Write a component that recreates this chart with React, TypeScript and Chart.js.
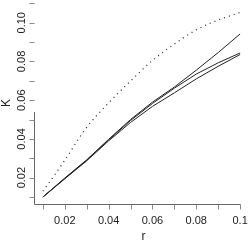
import React, { useEffect, useRef } from "react";
import { Chart, registerables } from "chart.js";

Chart.register(...registerables);

// Data
const rGrid = [0.01, 0.02, 0.03, 0.04, 0.05, 0.06, 0.07, 0.08, 0.09, 0.1];
const rDotted = [0.01, 0.015, 0.02, 0.03, 0.04, 0.05, 0.06, 0.07, 0.08, 0.09, 0.1];
const kDotted = [0.013, 0.0208, 0.029, 0.046, 0.0586, 0.0699, 0.0805, 0.089, 0.0963, 0.1014, 0.1053];
const kSolidA = [0.01, 0.0198, 0.0292, 0.0398, 0.05, 0.059, 0.0668, 0.0755, 0.0846, 0.0942];
const kSolidB = [0.01, 0.0196, 0.029, 0.0395, 0.0495, 0.0583, 0.0662, 0.0735, 0.0793, 0.0844];
const kSolidC = [0.01, 0.0194, 0.0287, 0.039, 0.0485, 0.0568, 0.0638, 0.071, 0.0775, 0.0836];

const xTicks = [0.01, 0.02, 0.03, 0.04, 0.05, 0.06, 0.07, 0.08, 0.09, 0.1];
const xLabels = ["0.02", "0.04", "0.06", "0.08", "0.1"];
const xLabelValues = [0.02, 0.04, 0.06, 0.08, 0.1];
const yTicks = [0.01, 0.02, 0.03, 0.04, 0.05, 0.06, 0.07, 0.08, 0.09, 0.1, 0.11];
const yLabels = ["0.02", "0.04", "0.06", "0.08", "0.10"];
const yLabelValues = [0.02, 0.04, 0.06, 0.08, 0.1];
const xTitle = "r";
const yTitle = "K";

const FONT = "11px 'Liberation Sans', Arial, sans-serif";

const axesPlugin = {
  id: "rAxes",
  afterDraw(chart: any) {
    const ctx = chart.ctx;
    const xs = chart.scales.x;
    const ys = chart.scales.y;
    const area = chart.chartArea;
    ctx.save();
    ctx.lineWidth = 1;
    ctx.strokeStyle = "#666";
    const yb = Math.round(area.bottom) + 0.5;
    const xl = Math.round(area.left) - 0.5;
    ctx.beginPath();
    ctx.moveTo(xl, yb);
    ctx.lineTo(Math.round(xs.getPixelForValue(0.1)) + 0.5, yb);
    ctx.stroke();
    ctx.beginPath();
    ctx.moveTo(xl, yb);
    ctx.lineTo(xl, Math.round(ys.getPixelForValue(0.054)));
    ctx.stroke();
    ctx.strokeStyle = "#888";
    xTicks.forEach((v) => {
      const px = Math.round(xs.getPixelForValue(v)) + 0.5;
      ctx.beginPath();
      ctx.moveTo(px, yb);
      ctx.lineTo(px, yb + 5);
      ctx.stroke();
    });
    yTicks.forEach((v) => {
      const py = Math.round(ys.getPixelForValue(v)) + 0.5;
      ctx.beginPath();
      ctx.moveTo(xl, py);
      ctx.lineTo(xl - 5, py);
      ctx.stroke();
    });
    ctx.fillStyle = "#222";
    ctx.font = FONT;
    ctx.textAlign = "center";
    ctx.textBaseline = "middle";
    xLabelValues.forEach((v, i) => {
      ctx.fillText(xLabels[i], xs.getPixelForValue(v), 221);
    });
    yLabelValues.forEach((v, i) => {
      ctx.save();
      ctx.translate(22, ys.getPixelForValue(v));
      ctx.rotate(-Math.PI / 2);
      ctx.fillText(yLabels[i], 0, 0);
      ctx.restore();
    });
    ctx.font = "12px 'Liberation Sans', Arial, sans-serif";
    ctx.fillText(xTitle, (area.left + area.right) / 2 + 2, 237);
    ctx.save();
    ctx.translate(7, (area.top + area.bottom) / 2);
    ctx.rotate(-Math.PI / 2);
    ctx.fillText(yTitle, 0, 0);
    ctx.restore();
    ctx.restore();
  },
};

export default function App() {
  const ref = useRef<HTMLCanvasElement | null>(null);
  useEffect(() => {
    if (!ref.current) return;
    const pts = (xs: number[], ys: number[]) => xs.map((x, i) => ({ x, y: ys[i] }));
    const solid = (d: number[]) => ({
      data: pts(rGrid, d),
      borderColor: "#222",
      borderWidth: 1,
      pointRadius: 0,
      tension: 0,
      fill: false,
    });
    const chart = new Chart(ref.current, {
      type: "line",
      data: {
        datasets: [
          {
            data: pts(rDotted, kDotted),
            borderColor: "#333",
            borderWidth: 1.2,
            borderDash: [1.1, 4],
            pointRadius: 0,
            cubicInterpolationMode: "monotone",
            fill: false,
          },
          solid(kSolidA),
          solid(kSolidB),
          solid(kSolidC),
        ],
      },
      options: {
        animation: false,
        responsive: false,
        maintainAspectRatio: false,
        devicePixelRatio: 1,
        layout: { padding: { left: 35, right: 3, top: 2, bottom: 41 } },
        plugins: { legend: { display: false }, tooltip: { enabled: false } },
        scales: {
          x: { type: "linear", min: 0.0064, max: 0.1036, display: false },
          y: { type: "linear", min: 0.0064, max: 0.1107, display: false },
        },
      },
      plugins: [axesPlugin],
    } as any);
    return () => chart.destroy();
  }, []);
  return (
    <div style={{ position: "absolute", left: 0, top: 0, width: 251, height: 245, background: "#fff" }}>
      <canvas ref={ref} width={251} height={245} style={{ width: 251, height: 245 }} />
    </div>
  );
}
